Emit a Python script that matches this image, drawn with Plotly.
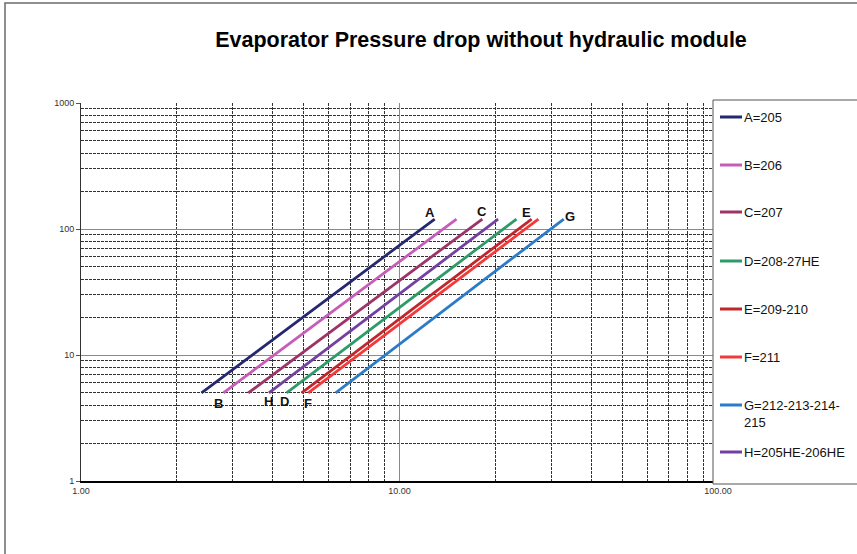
import math
import plotly.graph_objects as go

# Débit (m3/h) vs perte de charge (kPa), début et fin de chaque courbe
names = ['A=205', 'B=206', 'C=207', 'D=208-27HE', 'E=209-210', 'F=211',
         'G=212-213-214-<br>215', 'H=205HE-206HE']
letters = ['A', 'B', 'C', 'D', 'E', 'F', 'G', 'H']
flow_lo = [2.39, 2.80, 3.35, 4.42, 4.93, 5.17, 6.30, 3.89]
flow_hi = [12.9, 15.1, 18.2, 23.3, 26.0, 27.3, 32.8, 20.4]
dp_lo = [5, 5, 5, 5, 5, 5, 5, 5]
dp_hi = [120, 120, 120, 120, 120, 120, 120, 120]
colors = ['#25286E', '#C65DB8', '#9C3466', '#2E9A68', '#C0262C', '#F23A3A',
          '#2C7BC6', '#7440A0']

# où mettre la lettre : en haut ou en bas de la courbe + petit décalage
label_end = ['hi', 'lo', 'hi', 'lo', 'hi', 'lo', 'hi', 'lo']
label_shift = [(-5, 7), (-5, -11), (0, 8), (-2, -9), (-5, 7), (0, -11),
               (6, 3), (0, -9)]

x_ticks = [1, 10, 100]
x_ticktext = ['1.00', '10.00', '100.00']
y_ticks = [1, 10, 100, 1000]
y_ticktext = ['1', '10', '100', '1000']
minor_vals = [m * d for d in (1, 10, 100) for m in range(2, 10)]

FONT = 'Liberation Sans, Arial, sans-serif'

# géométrie de la zone de tracé (px) pour caser légende et cadre
L, T, PW, PH = 81, 103, 637, 378


def px_x(p):
    return (p - L) / PW


def px_y(p):
    return (T + PH - p) / PH


fig = go.Figure()
for i in range(len(letters)):
    fig.add_trace(go.Scatter(
        x=[flow_lo[i], flow_hi[i]], y=[dp_lo[i], dp_hi[i]], mode='lines',
        line=dict(color=colors[i], width=2.8),
        name=names[i], showlegend=False, hoverinfo='skip',
    ))

# lettres au bout des courbes
for i in range(len(letters)):
    hi = label_end[i] == 'hi'
    fig.add_annotation(
        x=math.log10(flow_hi[i] if hi else flow_lo[i]),
        y=math.log10(dp_hi[i] if hi else dp_lo[i]),
        xref='x', yref='y', text=f'<b>{letters[i]}</b>', showarrow=False,
        xshift=label_shift[i][0], yshift=label_shift[i][1],
        font=dict(family=FONT, size=13, color='#111'),
    )

# légende façon Excel (boîte à droite, coupée par le bord)
fig.add_shape(type='rect', xref='paper', yref='paper',
              x0=px_x(713), x1=px_x(900), y0=px_y(484), y1=px_y(100),
              line=dict(color='#555', width=1), fillcolor='white', layer='above')
legend_rows = [117, 165, 212, 261, 309, 357, 405, 452]
for i in range(len(letters)):
    yc = legend_rows[i]
    fig.add_shape(type='line', xref='paper', yref='paper',
                  x0=px_x(720), x1=px_x(742), y0=px_y(yc), y1=px_y(yc),
                  line=dict(color=colors[i], width=3), layer='above')
    fig.add_annotation(
        x=px_x(742), y=px_y(yc - 9), xref='paper', yref='paper',
        xanchor='left', yanchor='top', align='left', showarrow=False,
        text=names[i], font=dict(family=FONT, size=13, color='#111'),
    )

# cadre extérieur du graphique
fig.add_shape(type='rect', xref='paper', yref='paper',
              x0=px_x(5), x1=px_x(1000), y0=px_y(1000), y1=px_y(3),
              line=dict(color='#6b6b6b', width=1.5), layer='below')

fig.update_layout(
    width=857, height=554,
    margin=dict(l=L, r=857 - L - PW, t=T, b=554 - T - PH),
    paper_bgcolor='white', plot_bgcolor='white',
    font=dict(family=FONT, size=9, color='#333'),
    title=dict(text='<b>Evaporator Pressure drop without hydraulic module</b>',
               x=481 / 857, xanchor='center', y=1 - 39 / 554, yanchor='middle',
               font=dict(family=FONT, size=21.5, color='#000')),
    showlegend=False,
)
fig.update_xaxes(
    type='log', range=[0, 2], tickvals=x_ticks, ticktext=x_ticktext,
    showgrid=True, gridcolor='#8a8a8a', gridwidth=1,
    showline=True, linecolor='#000', linewidth=1.5, ticks='', ticklen=0,
    minor=dict(tickvals=minor_vals, showgrid=True, gridcolor='#333',
               griddash='3px,1px', gridwidth=1),
    zeroline=False, tickfont=dict(size=9, color='#333'),
)
fig.update_yaxes(
    type='log', range=[0, 3], tickvals=y_ticks, ticktext=y_ticktext,
    showgrid=True, gridcolor='#8a8a8a', gridwidth=1,
    showline=True, linecolor='#333', linewidth=1, ticks='outside', ticklen=4,
    tickcolor='#555',
    minor=dict(tickvals=minor_vals, showgrid=True, gridcolor='#333',
               griddash='3px,1px', gridwidth=1),
    zeroline=False, tickfont=dict(size=9, color='#333'),
)

# la page par défaut a 8px de marge sur le body : on la retire
fig.write_html('out.html', config={'displayModeBar': False},
               post_script="document.body.style.margin='0';")
